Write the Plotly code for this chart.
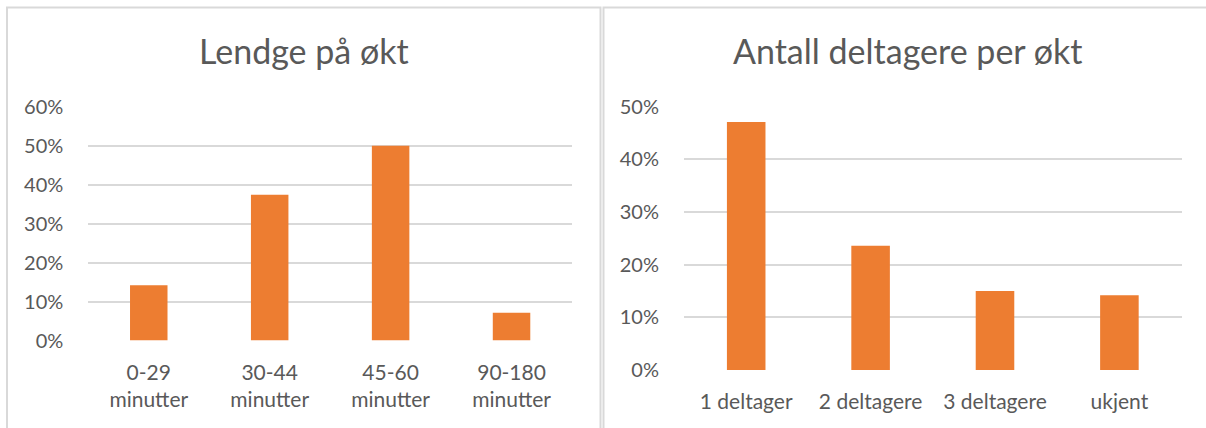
import plotly.graph_objects as go

W, H = 1206, 428

# Data
lengde_labels = ["0-29<br>minutter", "30-44<br>minutter", "45-60<br>minutter", "90-180<br>minutter"]
lengde_values = [0.142, 0.374, 0.500, 0.071]

deltagere_labels = ["1 deltager", "2 deltagere", "3 deltagere", "ukjent"]
deltagere_values = [0.471, 0.236, 0.150, 0.142]

title_left = "Lendge på økt"
title_right = "Antall deltagere per økt"

ORANGE = "#ED7D31"
GRID = "#D9D9D9"
TEXT = "#595959"
FONT = "Lato"


def px_x(p):
    return p / W


def px_y(p):
    return (H - p) / H


fig = go.Figure()
fig.add_trace(go.Bar(x=lengde_labels, y=lengde_values, marker_color=ORANGE,
                     marker_line_width=0, xaxis="x", yaxis="y", hoverinfo="x+y"))
fig.add_trace(go.Bar(x=deltagere_labels, y=deltagere_values, marker_color=ORANGE,
                     marker_line_width=0, xaxis="x2", yaxis="y2", hoverinfo="x+y"))

axis_common_y = dict(
    tickformat=".0%", showgrid=True, gridcolor=GRID, gridwidth=1.6,
    zeroline=False, showline=False, ticks="outside", ticklen=20,
    tickcolor="rgba(0,0,0,0)", tickfont=dict(family=FONT, size=20, color=TEXT),
    fixedrange=True,
)
axis_common_x = dict(
    showgrid=False, zeroline=False, showline=False, ticks="outside", ticklen=13,
    tickcolor="rgba(0,0,0,0)", tickfont=dict(family=FONT, size=21, color=TEXT),
    fixedrange=True,
)

fig.update_layout(
    width=W, height=H,
    margin=dict(l=0, r=0, t=0, b=0, pad=0, autoexpand=False),
    paper_bgcolor="white", plot_bgcolor="white",
    showlegend=False,
    bargap=0.69,
    xaxis=dict(domain=[px_x(88.3), px_x(572)], anchor="y", **axis_common_x),
    yaxis=dict(domain=[px_y(340.5), px_y(106.7)], range=[0, 0.6], dtick=0.1,
               anchor="x", **axis_common_y),
    xaxis2=dict(domain=[px_x(684), px_x(1181.6)], anchor="y2", **axis_common_x),
    yaxis2=dict(domain=[px_y(370), px_y(106.8)], range=[0, 0.5], dtick=0.1,
                anchor="x2", **axis_common_y),
    shapes=[
        # left panel frame (open at the bottom)
        dict(type="path", xref="paper", yref="paper",
             path=f"M {px_x(7)} 0 L {px_x(7)} {px_y(7.5)} L {px_x(600.5)} {px_y(7.5)} L {px_x(600.5)} 0",
             line=dict(color=GRID, width=2)),
        # right panel frame
        dict(type="path", xref="paper", yref="paper",
             path=f"M {px_x(603.5)} 0 L {px_x(603.5)} {px_y(7.5)} L 1 {px_y(7.5)}",
             line=dict(color=GRID, width=2)),
    ],
    annotations=[
        dict(text=title_left, xref="paper", yref="paper", x=px_x(304), y=px_y(51),
             xanchor="center", yanchor="middle", showarrow=False,
             font=dict(family=FONT, size=34, color=TEXT)),
        dict(text=title_right, xref="paper", yref="paper", x=px_x(907), y=px_y(51),
             xanchor="center", yanchor="middle", showarrow=False,
             font=dict(family=FONT, size=34, color=TEXT)),
    ],
)

fig.write_html("out.html")
